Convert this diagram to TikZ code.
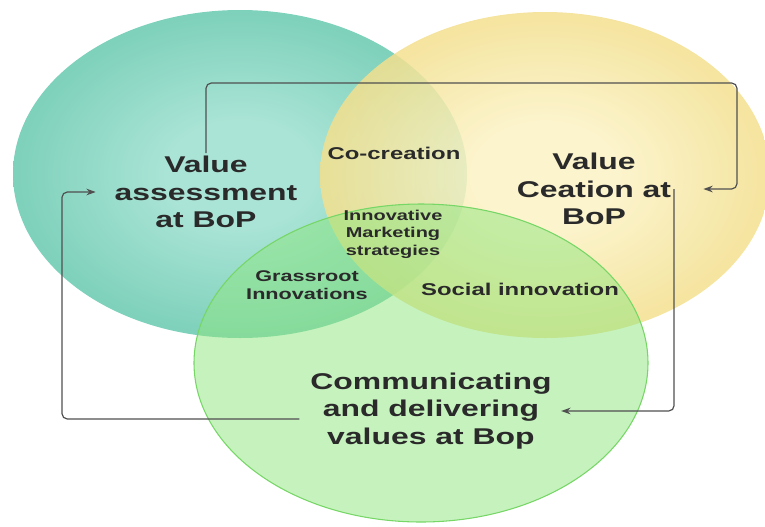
\documentclass[tikz,border=0pt]{standalone}
\usepackage{fontspec}
\usepackage{tikz}
\usetikzlibrary{arrows.meta,positioning}
\newfontfamily\lblfont{Liberation Sans}[FakeStretch=1.4]
\definecolor{tealin}{RGB}{170,228,214}
\definecolor{tealout}{RGB}{60,180,145}
\definecolor{yellowin}{RGB}{251,242,196}
\definecolor{yellowout}{RGB}{231,196,62}
\definecolor{leafgreen}{RGB}{142,230,126}
\definecolor{leafedge}{RGB}{118,214,102}
\definecolor{inkgray}{RGB}{42,42,42}
\definecolor{linegray}{RGB}{80,80,80}
\pgfdeclareradialshading{tealglow}{\pgfpoint{0bp}{0bp}}{color(0bp)=(tealin); color(8bp)=(tealin); color(50bp)=(tealout)}
\pgfdeclareradialshading{yellowglow}{\pgfpoint{0bp}{0bp}}{color(0bp)=(yellowin); color(8bp)=(yellowin); color(50bp)=(yellowout)}

\begin{document}
\begin{tikzpicture}[x=0.75pt,y=-0.75pt,
    bigtxt/.style={font=\lblfont\bfseries\fontsize{17.1}{20.6}\selectfont,text=inkgray,align=center,inner sep=2pt},
    midtxt/.style={font=\lblfont\bfseries\fontsize{12.8}{15}\selectfont,text=inkgray,align=center,inner sep=1pt},
    smalltxt/.style={font=\lblfont\bfseries\fontsize{10.7}{13.1}\selectfont,text=inkgray,align=center,inner sep=1pt},
    flow/.style={draw=linegray,line width=0.9pt,rounded corners=4pt,-{Stealth[length=7pt,width=5pt]}}]
  \useasboundingbox (0,0) rectangle (765,526);

  % three sets
  \shade[shading=tealglow] (240,174) ellipse [x radius=227, y radius=164];
  \shade[shading=yellowglow,opacity=0.85] (545,175) ellipse [x radius=225, y radius=163];
  \fill[leafgreen,opacity=0.5] (421,363) ellipse [x radius=227, y radius=159];
  \draw[leafedge,line width=0.8pt] (421,363) ellipse [x radius=227, y radius=159];

  % main labels
  \node[bigtxt] (assess) at (206,192) {Value\\assessment\\at BoP};
  \node[bigtxt] (create) at (594,189) {Value\\Ceation at\\BoP};
  \node[bigtxt] (deliver) at (431,411) {Communicating\\and delivering\\values at Bop};

  % overlaps
  \node[midtxt] (cocreate) at (394,153) {Co-creation};
  \node[smalltxt] (innov) at (393,234) {Innovative\\Marketing\\strategies};
  \node[smalltxt,font=\lblfont\bfseries\fontsize{11.6}{13.4}\selectfont] (grass) at (307,285) {Grassroot\\Innovations};
  \node[midtxt] (social) at (520,289) {Social innovation};

  % cycle
  \coordinate (topbend) at (737,83);
  \coordinate (leftbend) at (62,300);
  \draw[flow,shorten >=22pt] (assess.north) |- (topbend) |- (create.east);
  \draw[flow,shorten >=5pt] (create.east) |- (deliver.east);
  \draw[flow,shorten >=12pt] ([xshift=-6pt,yshift=-6pt]deliver.west) -| (leftbend) |- (assess.west);
\end{tikzpicture}
\end{document}
